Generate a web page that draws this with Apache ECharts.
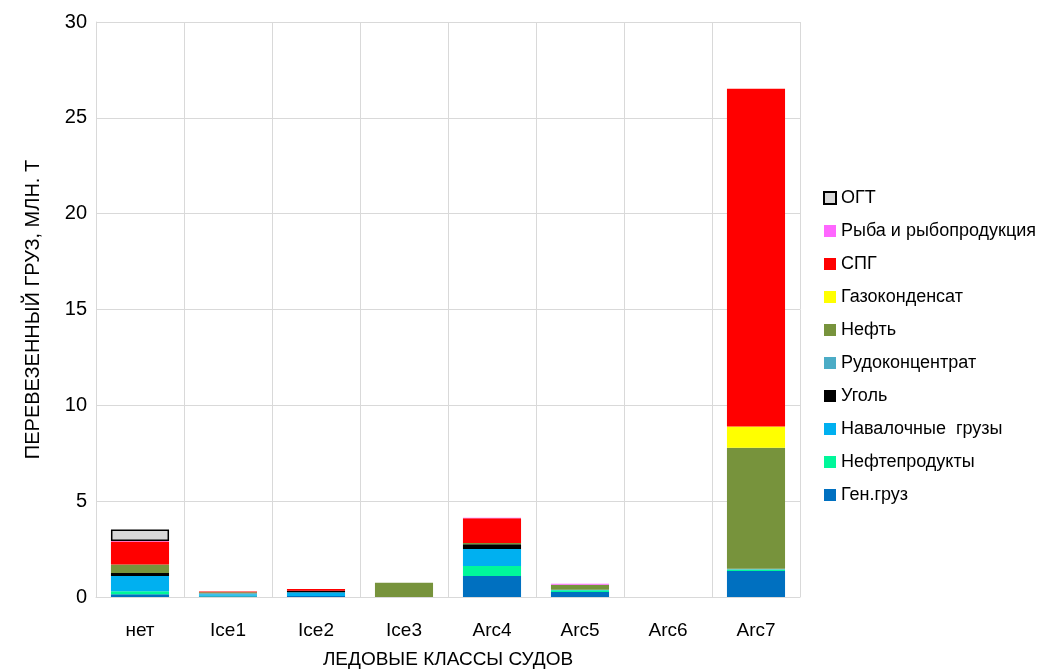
<!DOCTYPE html>
<html><head><meta charset="utf-8">
<script src="https://cdn.jsdelivr.net/npm/echarts@6/dist/echarts.min.js"></script>
<style>html,body{margin:0;padding:0;background:#fff}#c{width:1043px;height:671px}</style>
</head><body><div id="c"></div>
<script>
const categories = ['нет','Ice1','Ice2','Ice3','Arc4','Arc5','Arc6','Arc7'];
const genGruz     = [0.15, 0.04, 0.05, 0, 1.10, 0.26, 0, 1.36];
const nefteprod   = [0.15, 0.02, 0,    0, 0.52, 0.09, 0, 0.07];
const navalochn   = [0.80, 0.08, 0.20, 0, 0.89, 0.03, 0, 0];
const ugol        = [0.15, 0,    0.07, 0, 0.24, 0,    0, 0];
const rudokonc    = [0,    0.06, 0,    0, 0,    0,    0, 0.05];
const neft        = [0.45, 0.05, 0,    0.75, 0.07, 0.26, 0, 6.31];
const gazokond    = [0,    0,    0,    0, 0,    0,    0, 1.10];
const spg         = [1.20, 0.04, 0.10, 0, 1.29, 0,    0, 17.63];
const ryba        = [0.02, 0,    0,    0, 0.03, 0.05, 0, 0];
const ogt         = [0.60, 0,    0,    0, 0,    0,    0, 0];
const yTicks = {min: 0, max: 30, interval: 5};

const seriesDefs = [
  ['Ген.груз', genGruz, '#0070C0'],
  ['Нефтепродукты', nefteprod, '#00F79A'],
  ['Навалочные  грузы', navalochn, '#00B0F0'],
  ['Уголь', ugol, '#000000'],
  ['Рудоконцентрат', rudokonc, '#4BACC6'],
  ['Нефть', neft, '#77933C'],
  ['Газоконденсат', gazokond, '#FFFF00'],
  ['СПГ', spg, '#FF0000'],
  ['Рыба и рыбопродукция', ryba, '#FF66FF'],
  ['ОГТ', ogt, '#D9D9D9']
];
const font = 'Liberation Sans';
const chart = echarts.init(document.getElementById('c'));
chart.setOption({
  animation: false,
  textStyle: {fontFamily: font},
  grid: {left: 96, right: 243, top: 22, bottom: 74, outerBoundsMode: 'none', containLabel: false},
  legend: {
    orient: 'vertical', left: 818, top: 184,
    itemWidth: 12, itemHeight: 12, itemGap: 15,
    icon: 'rect',
    data: seriesDefs.map(s => s[0]).reverse(),
    textStyle: {fontSize: 18, color: '#000', fontFamily: font}
  },
  xAxis: {
    type: 'category', data: categories,
    name: 'ЛЕДОВЫЕ КЛАССЫ СУДОВ', nameLocation: 'middle', nameGap: 53,
    nameTextStyle: {fontSize: 19, color: '#000'},
    axisLine: {lineStyle: {color: '#D9D9D9'}},
    axisTick: {show: false},
    axisLabel: {fontSize: 19, color: '#000', margin: 24},
    splitLine: {show: true, lineStyle: {color: '#D9D9D9'}}
  },
  yAxis: {
    type: 'value', min: yTicks.min, max: yTicks.max, interval: yTicks.interval,
    name: 'ПЕРЕВЕЗЕННЫЙ ГРУЗ, МЛН. Т', nameLocation: 'middle', nameGap: 53, nameRotate: 90,
    nameTextStyle: {fontSize: 20, color: '#000'},
    axisLine: {show: true, lineStyle: {color: '#D9D9D9'}},
    axisTick: {show: false},
    axisLabel: {fontSize: 20, color: '#000', margin: 9},
    splitLine: {show: true, lineStyle: {color: '#D9D9D9'}}
  },
  series: seriesDefs.map(([name, data, color]) => ({
    name, type: 'bar', stack: 'total', barWidth: '66%',
    data: data.map(v => v > 0 ? v : null),
    itemStyle: name === 'ОГТ' ? {color, borderColor: '#000', borderWidth: 1.5} : {color},
    emphasis: {disabled: true}
  }))
});
</script></body></html>
